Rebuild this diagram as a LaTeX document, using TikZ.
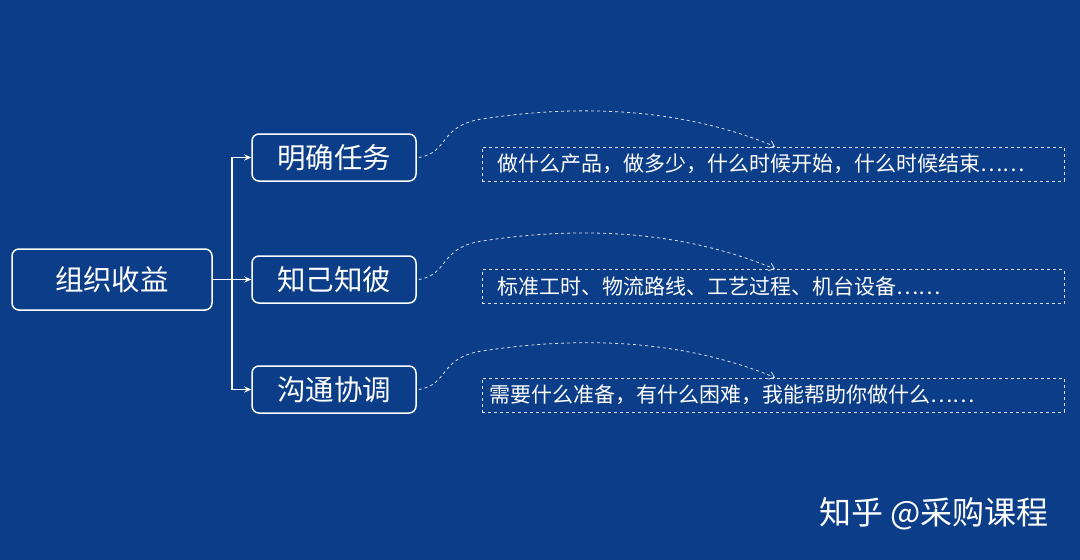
\documentclass[tikz,border=0pt]{standalone}
\usepackage{fontspec}
\setmainfont{Noto Sans CJK SC}
\usetikzlibrary{arrows.meta}
\definecolor{bg}{HTML}{0B3D88}
\tikzset{
 mainbox/.style={draw=white,line width=1.5pt,rounded corners=7pt,text=white,font=\fontsize{28.5}{32}\selectfont,inner sep=0pt,minimum height=47pt,minimum width=164pt},
 rootbox/.style={mainbox,minimum height=61pt,minimum width=200pt},
 notebox/.style={draw=white!85!bg,dashed,line width=0.8pt,text=white,font=\fontsize{21}{24}\selectfont,minimum width=582pt,minimum height=34pt,inner sep=0pt,text width=568pt,align=left},
 link/.style={draw=white,line width=1.5pt,-{Stealth[length=7pt,width=6pt]}},
 curve/.style={draw=white!85!bg,dashed,line width=0.8pt,-{Straight Barb[length=5pt,width=8pt]}}
}
\begin{document}
\begin{tikzpicture}[x=1pt,y=-1pt]
\fill[bg] (0,0) rectangle (1080,560);
\node[rootbox] (root) at (112,279.5) {组织收益};
\node[mainbox] (a) at (334,157.5) {明确任务};
\node[mainbox] (b) at (334,279.5) {知己知彼};
\node[mainbox] (c) at (334,389.5) {沟通协调};
\node[notebox] (na) at (773,164) {\hspace*{8pt}做什么产品，做多少，什么时候开始，什么时候结束……};
\node[notebox] (nb) at (773,286.5) {\hspace*{8pt}标准工时、物流路线、工艺过程、机台设备……};
\node[notebox] (nc) at (773,395) {需要什么准备，有什么困难，我能帮助你做什么……};
\coordinate (j) at (232,279.5);
\draw[draw=white,line width=1.5pt] (root.east) -- (j);
\draw[link] (j) |- (a.west);
\draw[link] (j) -- (b.west);
\draw[link] (j) |- (c.west);
\foreach \n/\t in {a/na,b/nb,c/nc}{
 \coordinate (s) at ([xshift=2pt]\n.east);
 \coordinate (e) at ([xshift=2pt]\t.north);
 \draw[curve] (s) .. controls ([shift={(30,-5)}]s) and ([shift={(20,-30)}]s) .. ([shift={(60,-38)}]s) .. controls ([shift={(200,-60)}]s) and ([shift={(-60,-25)}]e) .. (e);
}
\node[text=white,font=\fontsize{32}{36}\selectfont,anchor=east] (wm) at (1052,514) {知乎 @采购课程};
\end{tikzpicture}
\end{document}
